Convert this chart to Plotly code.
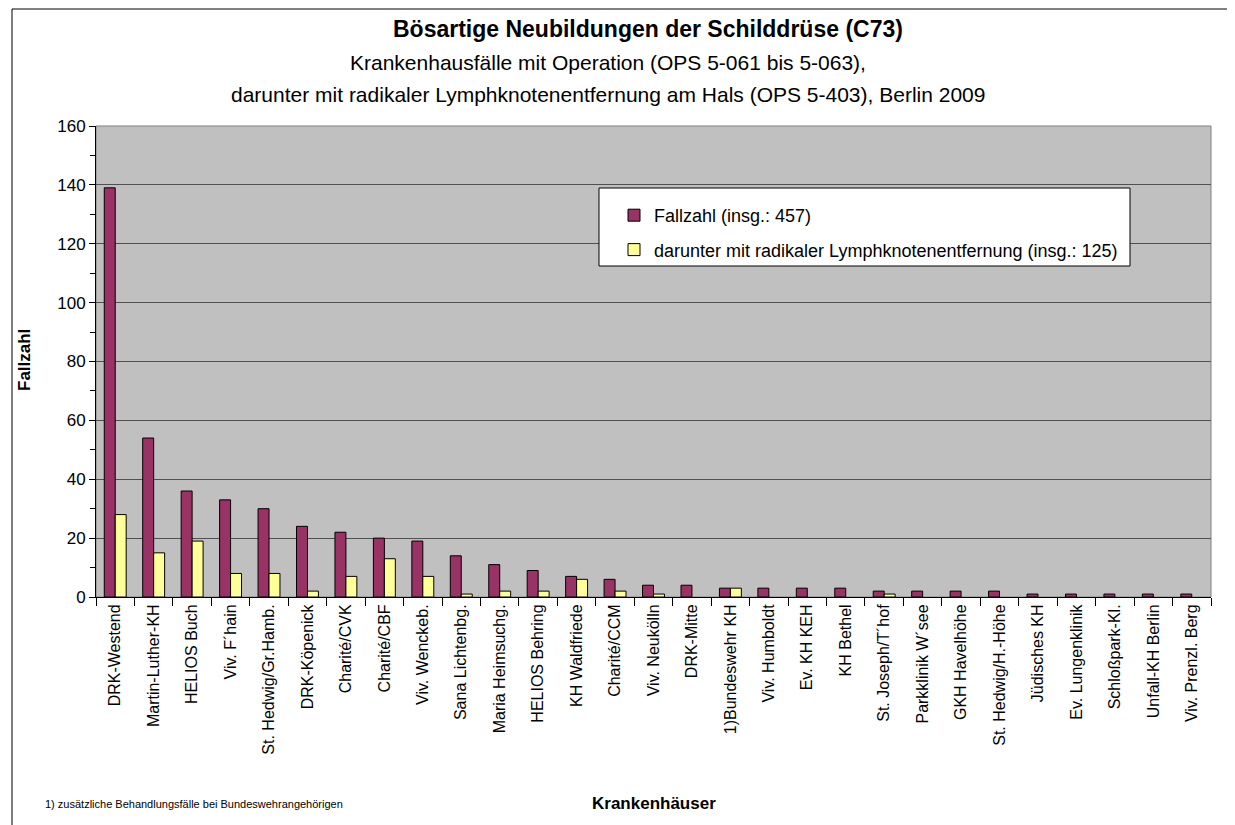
import plotly.graph_objects as go

categories = ["DRK-Westend", "Martin-Luther-KH", "HELIOS Buch", "Viv. F´hain", "St. Hedwig/Gr.Hamb.",
              "DRK-Köpenick", "Charité/CVK", "Charité/CBF", "Viv. Wenckeb.", "Sana Lichtenbg.",
              "Maria Heimsuchg.", "HELIOS Behring", "KH Waldfriede", "Charité/CCM", "Viv. Neukölln",
              "DRK-Mitte", "1)Bundeswehr KH", "Viv. Humboldt", "Ev. KH KEH", "KH Bethel",
              "St. Joseph/T´hof", "Parkklinik W´see", "GKH Havelhöhe", "St. Hedwig/H.-Höhe", "Jüdisches KH",
              "Ev. Lungenklinik", "Schloßpark-Kl.", "Unfall-KH Berlin", "Viv. Prenzl. Berg"]
fallzahl = [139, 54, 36, 33, 30, 24, 22, 20, 19, 14, 11, 9, 7, 6, 4, 4, 3, 3, 3, 3, 2, 2, 2, 2, 1, 1, 1, 1, 1]
lymph = [28, 15, 19, 8, 8, 2, 7, 13, 7, 1, 2, 2, 6, 2, 1, 0, 3, 0, 0, 0, 1, 0, 0, 0, 0, 0, 0, 0, 0]
name_fall = "Fallzahl (insg.: 457)"
name_lymph = "darunter mit radikaler Lymphknotenentfernung (insg.: 125)"

FONT = "Liberation Sans, Arial, sans-serif"

fig = go.Figure()
fig.add_trace(go.Bar(x=categories, y=[v if v else None for v in fallzahl], name=name_fall, legendgroup="a",
                     marker=dict(color="#993366", line=dict(color="black", width=1))))
fig.add_trace(go.Bar(x=categories, y=[v if v else None for v in lymph], name=name_lymph, legendgroup="b",
                     marker=dict(color="#FFFF99", line=dict(color="black", width=1))))

W, H = 1235, 825
L, R, T, B = 88, 32, 118, 236
pw, ph = W - L - R, H - T - B


def px(x):
    return (x - L) / pw


def py(y):
    return (H - B - y) / ph


fig.update_layout(
    width=W, height=H,
    margin=dict(l=L, r=R, t=T, b=B, pad=0),
    paper_bgcolor="white", plot_bgcolor="#C0C0C0",
    font=dict(family=FONT, color="black", size=15),
    barmode="group", bargap=0.43, bargroupgap=0,
    showlegend=True,
    legend=dict(x=px(606), y=py(189), xanchor="left", yanchor="top",
                bgcolor="rgba(0,0,0,0)", borderwidth=0,
                font=dict(size=18, family=FONT), traceorder="grouped",
                tracegroupgap=8, itemwidth=30),
    xaxis=dict(type="category", tickson="boundaries", ticks="outside", ticklen=8,
               tickcolor="black", showline=True, linecolor="black", linewidth=1,
               tickangle=-90, tickfont=dict(size=16), showgrid=False),
    yaxis=dict(range=[0, 160], dtick=20, ticks="outside", ticklen=6, tickcolor="black",
               showline=True, linecolor="black", linewidth=1, showgrid=True,
               gridcolor="#505050", gridwidth=1, tickfont=dict(size=17), zeroline=False,
               minor=dict(dtick=10, ticks="outside", ticklen=5, tickcolor="black", showgrid=False)),
)

shapes = [
    dict(type="rect", xref="paper", yref="paper", x0=0, x1=1, y0=0, y1=1,
         line=dict(color="#808080", width=1), fillcolor="rgba(0,0,0,0)", layer="below"),
    dict(type="rect", xref="paper", yref="paper", x0=px(591), x1=px(1122), y0=py(258), y1=py(180),
         line=dict(color="black", width=1), fillcolor="white", layer="above"),
    dict(type="rect", xref="paper", yref="paper", x0=px(4), x1=px(1231), y0=py(822), y1=py(1),
         line=dict(color="black", width=1), fillcolor="rgba(0,0,0,0)", layer="above"),
]
fig.update_layout(shapes=shapes)

ann = [
    dict(text="<b>Bösartige Neubildungen der Schilddrüse (C73)</b>", x=px(640), y=py(21), font=dict(size=23)),
    dict(text="Krankenhausfälle mit Operation (OPS 5-061 bis 5-063),", x=px(600), y=py(54), font=dict(size=21)),
    dict(text="darunter mit radikaler Lymphknotenentfernung am Hals (OPS 5-403), Berlin 2009", x=px(600),
         y=py(86), font=dict(size=21)),
    dict(text="<b>Krankenhäuser</b>", x=0.5, y=py(795), font=dict(size=17)),
    dict(text="1) zusätzliche Behandlungsfälle bei Bundeswehrangehörigen", x=px(35), y=py(796),
         xanchor="left", font=dict(size=11)),
    dict(text="<b>Fallzahl</b>", x=px(16), y=py(352), textangle=-90, font=dict(size=17)),
]
for a in ann:
    a.setdefault("xanchor", "center")
    a.update(xref="paper", yref="paper", yanchor="middle", showarrow=False)
fig.update_layout(annotations=ann)

fig.write_html("out.html")
